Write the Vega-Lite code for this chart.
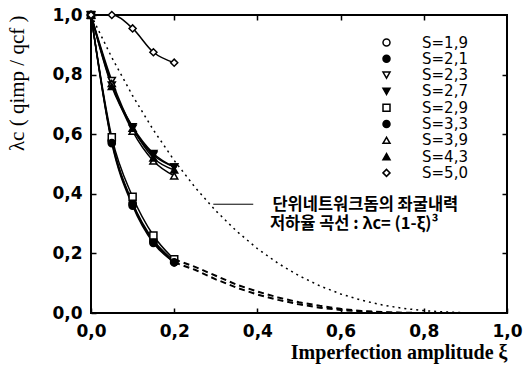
{
  "$schema": "https://vega.github.io/schema/vega-lite/v6.json",
  "width": 416,
  "height": 298,
  "autosize": {"type": "none"},
  "padding": {"left": 91, "top": 15, "right": 22, "bottom": 55},
  "background": "white",
  "config": {
    "view": {"stroke": "black", "strokeWidth": 2},
    "axis": {"grid": false, "domain": false, "tickColor": "black", "tickWidth": 1.5, "tickSize": -5, "labelColor": "black", "titleColor": "black"}
  },
  "datasets": {
    "pts": [
      {"S": "1,9", "x": 0, "y": 1}, {"S": "1,9", "x": 0.05, "y": 0.58}, {"S": "1,9", "x": 0.1, "y": 0.37}, {"S": "1,9", "x": 0.15, "y": 0.245}, {"S": "1,9", "x": 0.2, "y": 0.175},
      {"S": "2,1", "x": 0, "y": 1}, {"S": "2,1", "x": 0.05, "y": 0.575}, {"S": "2,1", "x": 0.1, "y": 0.365}, {"S": "2,1", "x": 0.15, "y": 0.24}, {"S": "2,1", "x": 0.2, "y": 0.17},
      {"S": "2,3", "x": 0, "y": 1}, {"S": "2,3", "x": 0.05, "y": 0.78}, {"S": "2,3", "x": 0.1, "y": 0.62}, {"S": "2,3", "x": 0.15, "y": 0.53}, {"S": "2,3", "x": 0.2, "y": 0.49},
      {"S": "2,7", "x": 0, "y": 1}, {"S": "2,7", "x": 0.05, "y": 0.765}, {"S": "2,7", "x": 0.1, "y": 0.625}, {"S": "2,7", "x": 0.15, "y": 0.535}, {"S": "2,7", "x": 0.2, "y": 0.49},
      {"S": "2,9", "x": 0, "y": 1}, {"S": "2,9", "x": 0.05, "y": 0.59}, {"S": "2,9", "x": 0.1, "y": 0.39}, {"S": "2,9", "x": 0.15, "y": 0.26}, {"S": "2,9", "x": 0.2, "y": 0.18},
      {"S": "3,3", "x": 0, "y": 1}, {"S": "3,3", "x": 0.05, "y": 0.57}, {"S": "3,3", "x": 0.1, "y": 0.36}, {"S": "3,3", "x": 0.15, "y": 0.235}, {"S": "3,3", "x": 0.2, "y": 0.17},
      {"S": "3,9", "x": 0, "y": 1}, {"S": "3,9", "x": 0.05, "y": 0.77}, {"S": "3,9", "x": 0.1, "y": 0.61}, {"S": "3,9", "x": 0.15, "y": 0.51}, {"S": "3,9", "x": 0.2, "y": 0.46},
      {"S": "4,3", "x": 0, "y": 1}, {"S": "4,3", "x": 0.05, "y": 0.76}, {"S": "4,3", "x": 0.1, "y": 0.62}, {"S": "4,3", "x": 0.15, "y": 0.52}, {"S": "4,3", "x": 0.2, "y": 0.48},
      {"S": "5,0", "x": 0, "y": 1}, {"S": "5,0", "x": 0.05, "y": 1.0}, {"S": "5,0", "x": 0.1, "y": 0.955}, {"S": "5,0", "x": 0.15, "y": 0.875}, {"S": "5,0", "x": 0.2, "y": 0.84}
    ],
    "ext": [
      {"k": "a", "x": 0.2, "y": 0.18}, {"k": "a", "x": 0.25, "y": 0.155}, {"k": "a", "x": 0.3, "y": 0.125}, {"k": "a", "x": 0.35, "y": 0.095}, {"k": "a", "x": 0.4, "y": 0.072}, {"k": "a", "x": 0.45, "y": 0.052}, {"k": "a", "x": 0.5, "y": 0.036}, {"k": "a", "x": 0.55, "y": 0.024}, {"k": "a", "x": 0.6, "y": 0.014}, {"k": "a", "x": 0.65, "y": 0.007}, {"k": "a", "x": 0.7, "y": 0.003}, {"k": "a", "x": 0.75, "y": 0.001}, {"k": "a", "x": 0.8, "y": 0},
      {"k": "b", "x": 0.2, "y": 0.17}, {"k": "b", "x": 0.25, "y": 0.145}, {"k": "b", "x": 0.3, "y": 0.113}, {"k": "b", "x": 0.35, "y": 0.085}, {"k": "b", "x": 0.4, "y": 0.062}, {"k": "b", "x": 0.45, "y": 0.044}, {"k": "b", "x": 0.5, "y": 0.029}, {"k": "b", "x": 0.55, "y": 0.018}, {"k": "b", "x": 0.6, "y": 0.01}, {"k": "b", "x": 0.65, "y": 0.005}, {"k": "b", "x": 0.7, "y": 0.002}, {"k": "b", "x": 0.75, "y": 0}
    ],
    "cube": [
      {"x": 0, "y": 1}, {"x": 0.05, "y": 0.857375}, {"x": 0.1, "y": 0.729}, {"x": 0.15, "y": 0.614125}, {"x": 0.2, "y": 0.512}, {"x": 0.25, "y": 0.421875}, {"x": 0.3, "y": 0.343}, {"x": 0.35, "y": 0.274625}, {"x": 0.4, "y": 0.216}, {"x": 0.45, "y": 0.166375}, {"x": 0.5, "y": 0.125}, {"x": 0.55, "y": 0.091125}, {"x": 0.6, "y": 0.064}, {"x": 0.65, "y": 0.042875}, {"x": 0.7, "y": 0.027}, {"x": 0.75, "y": 0.015625}, {"x": 0.8, "y": 0.008}, {"x": 0.85, "y": 0.003375}, {"x": 0.9, "y": 0.001}
    ],
    "note": [
      {"x": 0.436, "y": 0.364, "t": "단위네트워크돔의 좌굴내력"},
      {"x": 0.43, "y": 0.298, "t": "저하율 곡선 : λc= (1-ξ)³"}
    ],
    "seg": [{"x": 0.294, "x2": 0.39, "y": 0.365}]
  },
  "resolve": {"axis": {"x": "independent", "y": "independent"}},
  "layer": [
    {
      "data": {"name": "cube"},
      "mark": {"type": "line", "color": "black", "strokeWidth": 1.5, "strokeDash": [2, 4]},
      "encoding": {
        "x": {"field": "x", "type": "quantitative", "scale": {"domain": [0, 1], "nice": false, "zero": false},
          "axis": {"orient": "bottom", "values": [0, 0.2, 0.4, 0.6, 0.8, 1], "labelFont": "DejaVu Sans", "labelFontWeight": "bold", "labelFontSize": 17, "labelPadding": 15, "labelFlush": false,
            "labelExpr": "replace(format(datum.value, '.1f'), '.', ',')",
            "title": "Imperfection amplitude ξ", "titleFont": "Liberation Serif", "titleFontSize": 20, "titleFontWeight": "bold", "titleAnchor": "end", "titlePadding": 3}},
        "y": {"field": "y", "type": "quantitative", "scale": {"domain": [0, 1], "nice": false, "zero": false},
          "axis": {"orient": "left", "values": [0, 0.2, 0.4, 0.6, 0.8, 1], "labelFont": "DejaVu Sans", "labelFontWeight": "bold", "labelFontSize": 17, "labelPadding": 14, "labelFlush": false,
            "labelExpr": "replace(format(datum.value, '.1f'), '.', ',')",
            "title": "λc ( qimp / qcf )", "titleFont": "Liberation Serif", "titleFontSize": 21, "titleFontWeight": "normal", "titleAnchor": "end", "titlePadding": 24}}
      }
    },
    {
      "data": {"name": "ext"},
      "mark": {"type": "line", "color": "black", "strokeWidth": 2, "strokeDash": [6, 4]},
      "encoding": {
        "x": {"field": "x", "type": "quantitative", "axis": null},
        "y": {"field": "y", "type": "quantitative", "axis": null},
        "detail": {"field": "k"}
      }
    },
    {
      "data": {"name": "pts"},
      "mark": {"type": "line", "color": "black", "strokeWidth": 1.5, "interpolate": "monotone"},
      "encoding": {
        "x": {"field": "x", "type": "quantitative", "axis": null},
        "y": {"field": "y", "type": "quantitative", "axis": null},
        "detail": {"field": "S"}
      }
    },
    {
      "data": {"name": "pts"},
      "mark": {"type": "point", "strokeWidth": 1.5, "opacity": 1, "size": 50},
      "encoding": {
        "x": {"field": "x", "type": "quantitative", "axis": null},
        "y": {"field": "y", "type": "quantitative", "axis": null},
        "fill": {"field": "S", "type": "nominal",
          "scale": {"domain": ["1,9", "2,1", "2,3", "2,7", "2,9", "3,3", "3,9", "4,3", "5,0"], "range": ["white", "black", "white", "black", "white", "black", "white", "black", "white"]},
          "legend": {"orient": "none", "legendX": 288, "legendY": 20, "title": null, "padding": 0, "symbolSize": 49, "symbolStrokeWidth": 1.5,
            "labelFont": "DejaVu Sans", "labelFontSize": 15, "labelColor": "black", "labelOffset": 28, "rowPadding": 0.3, "labelExpr": "'S=' + datum.label"}},
        "stroke": {"field": "S", "type": "nominal",
          "scale": {"domain": ["1,9", "2,1", "2,3", "2,7", "2,9", "3,3", "3,9", "4,3", "5,0"], "range": ["black", "black", "black", "black", "black", "black", "black", "black", "black"]}},
        "shape": {"field": "S", "type": "nominal",
          "scale": {"domain": ["1,9", "2,1", "2,3", "2,7", "2,9", "3,3", "3,9", "4,3", "5,0"], "range": ["circle", "circle", "triangle-down", "triangle-down", "square", "circle", "triangle-up", "triangle-up", "diamond"]}}
      }
    },
    {
      "data": {"name": "note"},
      "mark": {"type": "text", "align": "left", "baseline": "middle", "font": "Noto Sans CJK KR", "fontWeight": "bold", "fontSize": 16.5, "color": "black"},
      "encoding": {
        "x": {"field": "x", "type": "quantitative", "axis": null},
        "y": {"field": "y", "type": "quantitative", "axis": null},
        "text": {"field": "t"}
      }
    },
    {
      "data": {"name": "seg"},
      "mark": {"type": "rule", "color": "black", "strokeWidth": 1},
      "encoding": {
        "x": {"field": "x", "type": "quantitative", "axis": {"orient": "top", "values": [0.2, 0.4, 0.6, 0.8], "labels": false, "title": null}},
        "x2": {"field": "x2"},
        "y": {"field": "y", "type": "quantitative", "axis": {"orient": "right", "values": [0.2, 0.4, 0.6, 0.8], "labels": false, "title": null}}
      }
    }
  ]
}
